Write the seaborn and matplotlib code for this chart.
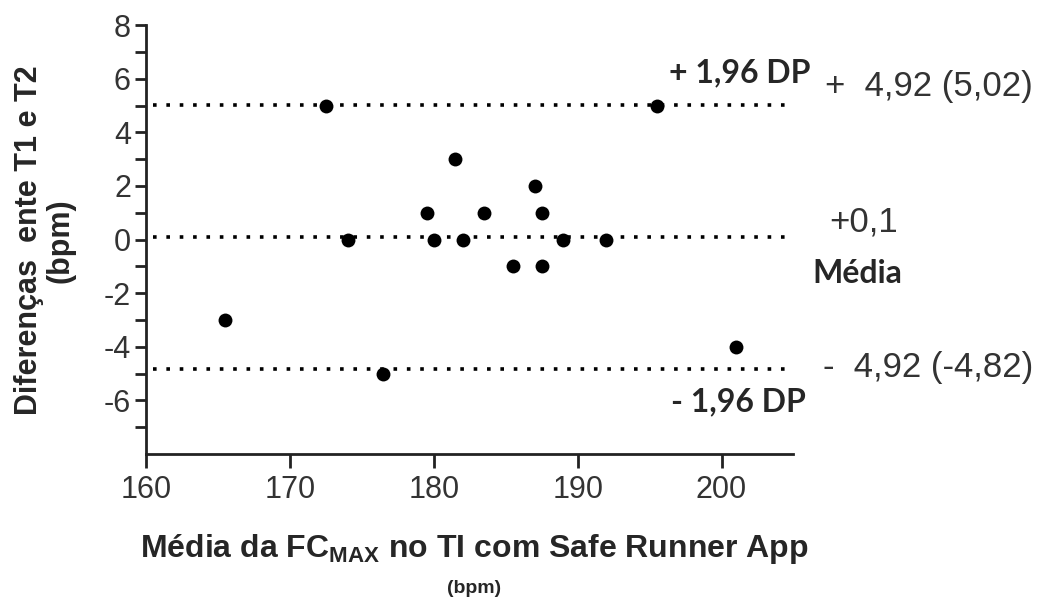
import numpy as np
import matplotlib
matplotlib.use("Agg")
import matplotlib.pyplot as plt
import seaborn as sns

# Bland-Altman data
media_fc = [172.5, 195.5, 181.5, 179.5, 183.5, 187.0, 187.5,
            174.0, 180.0, 182.0, 189.0, 192.0,
            185.5, 187.5, 165.5, 176.5, 201.0]
diferenca = [5, 5, 3, 1, 1, 2, 1,
             0, 0, 0, 0, 0,
             -1, -1, -3, -5, -4]

linhas = [5.02, 0.1, -4.82]
x_ticks = [160, 170, 180, 190, 200]
y_ticks = [-6, -4, -2, 0, 2, 4, 6, 8]

sns.set_style("ticks")
plt.rcParams["font.family"] = ["Liberation Sans", "DejaVu Sans"]
plt.rcParams["axes.unicode_minus"] = False
plt.rcParams["mathtext.fontset"] = "custom"
plt.rcParams["mathtext.rm"] = "Liberation Sans:bold"
plt.rcParams["mathtext.bf"] = "Liberation Sans:bold"

fig = plt.figure(figsize=(10.44, 5.99), dpi=100)
ax = fig.add_axes([0.140, 0.242, 0.620, 0.716])

for y in linhas:
    ax.hlines(y, 160.5, 205, colors="black", linewidth=2.6,
              linestyles=(0, (1, 2.7)))

sns.scatterplot(x=media_fc, y=diferenca, ax=ax, color="black", s=100,
                edgecolor="black", linewidth=0, zorder=3)

ax.set_xlim(160, 205)
ax.set_ylim(-8, 8)
ax.set_xticks(x_ticks)
ax.set_yticks(y_ticks)
ax.set_yticks(np.arange(-7, 8, 2), minor=True)
sns.despine(ax=ax)
for s in ["left", "bottom"]:
    ax.spines[s].set_linewidth(2)
    ax.spines[s].set_color("#222222")
ax.tick_params(axis="both", which="both", width=2, color="#222222",
               labelsize=22, labelcolor="#333333")
ax.tick_params(axis="y", which="both", length=8, pad=3)
ax.tick_params(axis="x", which="major", length=10, pad=5)

# y label
fig.text(0.043, 0.599, "Diferenças  ente T1 e T2\n(bpm)", rotation=90,
         ha="center", va="center", multialignment="center",
         fontsize=22, fontweight="bold", linespacing=1.05)

# x label
fig.text(0.454, 0.083, r"Média da FC$_{\mathrm{MAX}}$ no TI com Safe Runner App",
         ha="center", va="center", fontsize=23, fontweight="bold")
fig.text(0.454, 0.018, "(bpm)", ha="center", va="center",
         fontsize=14, fontweight="bold")

# annotations
anot = dict(fontsize=23, fontweight="bold", family=["Lato", "DejaVu Sans"],
            va="center", ha="left")
fig.text(0.641, 0.878, "+ 1,96 DP", **anot)
fig.text(0.778, 0.543, "Média", **anot)
fig.text(0.643, 0.330, "- 1,96 DP", **anot)

num = dict(fontsize=25, color="#333333", va="center", ha="left")
fig.text(0.790, 0.855, "+  4,92 (5,02)", **num)
fig.text(0.794, 0.629, "+0,1", **num)
fig.text(0.788, 0.387, "-  4,92 (-4,82)", **num)

fig.savefig("out.png", dpi=100)
